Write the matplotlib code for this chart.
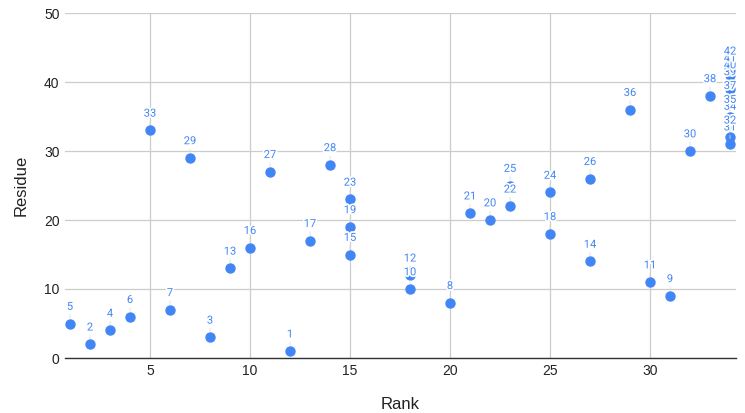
import matplotlib
matplotlib.use('Agg')
import matplotlib.pyplot as plt
import matplotlib.patheffects as pe

# point id (label), rank, residue
labels = list(range(1, 43))
rank = [12, 2, 8, 3, 1, 4, 6, 20, 31, 18,
        30, 18, 9, 27, 15, 10, 13, 25, 15, 22,
        21, 23, 15, 25, 23, 27, 11, 14, 7, 32,
        34, 34, 5, 34, 34, 29, 34, 33, 34, 34,
        34, 34]
residue = labels[:]

xticks = [5, 10, 15, 20, 25, 30]
yticks = [0, 10, 20, 30, 40, 50]

BLUE = '#4285F4'
GRID = '#cccccc'

fig = plt.figure(figsize=(7.45, 4.13), dpi=100)
ax = fig.add_axes([65 / 745., 1 - 358 / 413., (736 - 65) / 745., (358 - 13) / 413.])

ax.set_xlim(0.75, 34.3)
ax.set_ylim(0, 50)
ax.set_xticks(xticks)
ax.set_yticks(yticks)
ax.grid(True, color=GRID, linewidth=0.9)
ax.set_axisbelow(True)
for s in ['top', 'right', 'left']:
    ax.spines[s].set_visible(False)
ax.spines['bottom'].set_color('#333333')
ax.spines['bottom'].set_linewidth(1.0)
ax.tick_params(length=0, labelsize=10, colors='#222222', pad=4)
for t in ax.get_xticklabels() + ax.get_yticklabels():
    t.set_fontfamily('Liberation Sans')

ax.scatter(rank, residue, s=42, color=BLUE, zorder=3, clip_on=False)

halo = [pe.withStroke(linewidth=2.5, foreground='white')]
for lab, x, y in zip(labels, rank, residue):
    ax.annotate(str(lab), (x, y), xytext=(0, 12), textcoords='offset points',
                ha='center', va='center', fontsize=8, color=BLUE,
                family='Roboto', zorder=4, path_effects=halo,
                arrowprops=dict(arrowstyle='-', color='#dddddd', lw=0.6,
                                shrinkA=0, shrinkB=4))

ax.set_xlabel('Rank', fontsize=12, family='Liberation Sans', color='#222222', labelpad=14)
ax.set_ylabel('Residue', fontsize=12, family='Liberation Sans', color='#222222', labelpad=11)

fig.savefig('out.png', dpi=100)
